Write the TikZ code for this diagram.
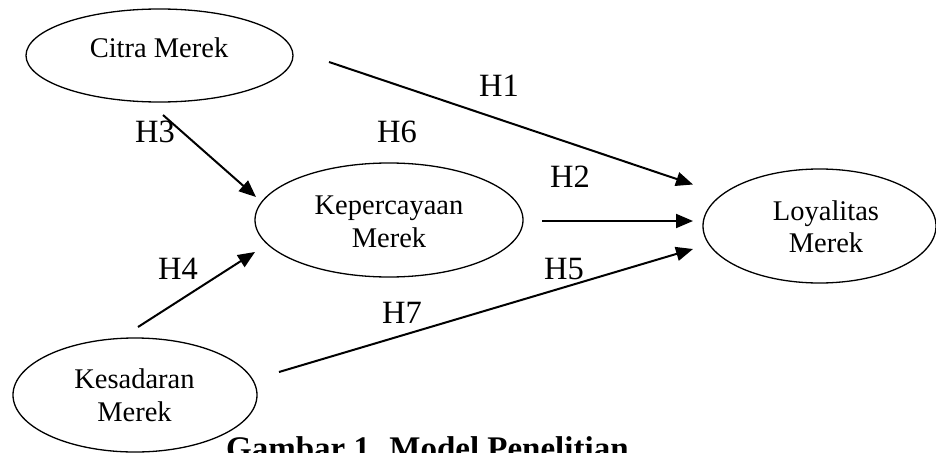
\documentclass[tikz,border=0pt]{standalone}
\usepackage{fontspec}
\setmainfont{Liberation Serif}
\usetikzlibrary{shapes.geometric,arrows.meta}
\begin{document}
\begin{tikzpicture}[x=1pt,y=-1pt,
  construct/.style={draw, ellipse, line width=1.3pt, inner sep=0pt},
  lbl/.style={inner sep=0pt, anchor=base, font=\fontsize{28.5}{34}\selectfont},
  hyp/.style={inner sep=0pt, anchor=base west, font=\fontsize{32.5}{38}\selectfont},
  path/.style={line width=2pt, -{Triangle[length=17pt,width=14pt]}}]
\useasboundingbox (0,0) rectangle (936,452);

% constructs
\node[construct, minimum width=267pt, minimum height=93pt] (citra) at (159.5,55.5) {};
\node[construct, minimum width=268pt, minimum height=114pt] (kep) at (389,220) {};
\node[construct, minimum width=233pt, minimum height=114pt] (loy) at (819.5,226) {};
\node[construct, minimum width=244pt, minimum height=114pt] (kes) at (135,395) {};

% construct names
\node[lbl] (citraT) at (159,57) {Citra Merek};
\node[lbl] (kepT1) at (389,214) {Kepercayaan};
\node[lbl] (kepT2) at (389,247) {Merek};
\node[lbl] (loyT1) at (826,220) {Loyalitas};
\node[lbl] (loyT2) at (826,252) {Merek};
\node[lbl] (kesT1) at (134.5,388) {Kesadaran};
\node[lbl] (kesT2) at (134.5,421) {Merek};

% free ends of the paths
\coordinate (h1s) at (329,62);   \coordinate (h1e) at (693,184.5);
\coordinate (h3s) at (163,115);  \coordinate (h3e) at (256,197);
\coordinate (h2s) at (542,221);  \coordinate (h2e) at (693,221);
\coordinate (h4s) at (138,327);  \coordinate (h4e) at (255,252);
\coordinate (h5s) at (279,372);  \coordinate (h5e) at (693,249);

\draw[path] (h1s) -- (h1e);
\draw[path] (h3s) -- (h3e);
\draw[path] (h2s) -- (h2e);
\draw[path] (h4s) -- (h4e);
\draw[path] (h5s) -- (h5e);

% hypothesis labels
\node[hyp] (H1) at (479,96) {H1};
\node[hyp] (H2) at (550,187) {H2};
\node[hyp] (H3) at (135,142) {H3};
\node[hyp] (H4) at (158,279) {H4};
\node[hyp] (H5) at (544,279) {H5};
\node[hyp] (H6) at (377,142) {H6};
\node[hyp] (H7) at (382,323) {H7};

% caption
\node[inner sep=0pt, anchor=base west, font=\fontsize{33}{38}\selectfont\bfseries] (cap) at (226,459) {Gambar 1. Model Penelitian};
\end{tikzpicture}
\end{document}
